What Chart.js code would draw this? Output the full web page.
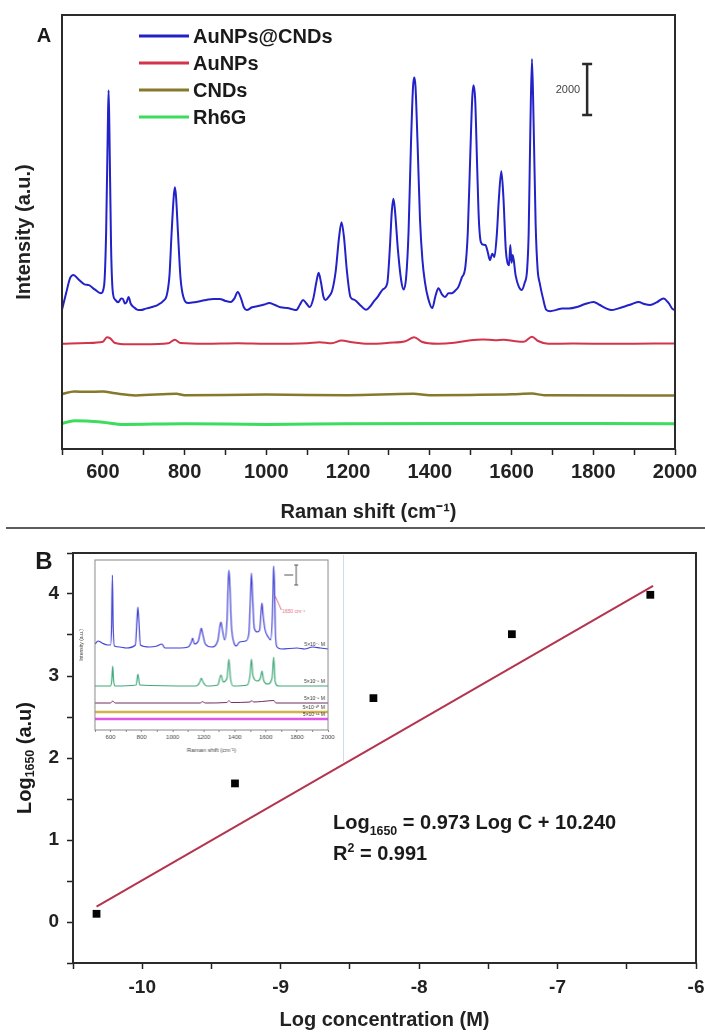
<!DOCTYPE html>
<html>
<head>
<meta charset="UTF-8">
<title>SERS spectra and 1650 calibration</title>
<script src="https://cdn.jsdelivr.net/npm/chart.js"></script>
<style>
  body { margin: 0; background: #fff; }
  #page { position: relative; width: 705px; height: 1032px; overflow: hidden; background: #fff; }
  canvas { position: absolute; }
  #spectra { left: 0; top: 0; }
  #calib { left: 0; top: 530px; }
  #inset { left: 74px; top: 555px; background: #fff; border-right: 1px solid #d3dde8; }
  .rule { position: absolute; left: 6px; right: 0; top: 527px; height: 2px; background: #5c5c5c; }
</style>
</head>
<body>
<div id="page">
  <canvas id="spectra" width="705" height="528"></canvas>
  <div class="rule"></div>
  <canvas id="calib" width="705" height="502"></canvas>
  <canvas id="inset" width="270" height="207"></canvas>
</div>

<script>
  const FAMILY = '"Liberation Sans", Arial, sans-serif';

  // ---- Panel A: spectra (Raman shift in cm-1, counts) ----
  const hybridShift = [
    500, 510, 520, 528, 540, 555, 566, 580, 595, 603,
    608, 612, 614, 616, 620, 624, 630, 638, 645, 649,
    654, 658, 663, 668, 676, 685, 693, 705, 720, 735,
    748, 756, 763, 768, 773, 776, 779, 784, 790, 797,
    809, 825, 840, 853, 870, 886, 900, 913, 922, 930,
    938, 945, 952, 965, 980, 995, 1007, 1020, 1035, 1051,
    1065, 1073, 1082, 1090, 1098, 1106, 1115, 1122, 1128, 1134,
    1140, 1145, 1152, 1161, 1170, 1178, 1184, 1190, 1197, 1206,
    1215, 1222, 1232, 1244, 1255, 1264, 1272, 1285, 1296, 1302,
    1307, 1311, 1315, 1322, 1330, 1336, 1342, 1348, 1354, 1359,
    1362, 1365, 1370, 1376, 1382, 1388, 1396, 1406, 1414, 1421,
    1430, 1437, 1446, 1454, 1462, 1470, 1478, 1487, 1493, 1499,
    1504, 1507, 1511, 1516, 1520, 1525, 1531, 1536, 1542, 1547,
    1553, 1558, 1564, 1569, 1575, 1580, 1586, 1590, 1594, 1597,
    1600, 1603, 1610, 1618, 1625, 1632, 1638, 1642, 1646, 1650,
    1654, 1659, 1664, 1669, 1677, 1685, 1695, 1710, 1724, 1740,
    1760, 1780, 1801, 1815, 1830, 1845, 1860, 1880, 1895, 1911,
    1925, 1939, 1955, 1972, 1985, 1993, 2000
  ];
  const hybridCounts = [
    5450, 6100, 6700, 6820, 6650, 6450, 6420, 6250, 6100, 6400,
    8500, 12500, 14050, 12500, 8000, 6200, 5850, 5750, 5900, 5880,
    5700, 5750, 5950, 5700, 5550, 5450, 5440, 5500, 5560, 5650,
    5800, 6000, 6800, 8400, 9800, 10250, 9900, 8400, 6700, 5950,
    5720, 5750, 5800, 5840, 5880, 5880, 5800, 5760, 5900, 6150,
    5900, 5550, 5440, 5550, 5600, 5660, 5720, 5650, 5550, 5520,
    5470, 5440, 5650, 5840, 5700, 5560, 5900, 6500, 6900, 6500,
    5950, 5840, 5950, 6200, 7000, 8300, 8880, 8300, 7000, 5950,
    5850, 5760, 5600, 5450, 5600, 5800, 5950, 6250, 6500, 7800,
    9300, 9800, 9300, 7800, 6600, 6250, 6700, 8500, 12000, 14200,
    14550, 14200, 12000, 9000, 7400, 6550, 5900, 5520, 6000, 6300,
    6050, 5950, 6100, 6100, 6200, 6350, 6700, 7130, 8500, 11500,
    13800, 14250, 13700, 11000, 9000, 8100, 8000, 7990, 7700, 7400,
    7650, 7520, 8400, 9800, 10880, 9900, 7800, 7300, 7200, 7990,
    7300, 7600, 6800, 6350, 6230, 6500, 7000, 8500, 12500, 15280,
    12800, 8800, 7000, 6500, 5900, 5450, 5400, 5450, 5500, 5500,
    5560, 5680, 5760, 5650, 5520, 5440, 5500, 5600, 5680, 5760,
    5680, 5640, 5740, 5900, 5700, 5500, 5440
  ];
  const aunpShift = [
    500, 560, 600, 610, 618, 630, 660, 700, 760, 776,
    790, 850, 930, 1000, 1100, 1130, 1160, 1184, 1210, 1250,
    1300, 1340, 1362, 1380, 1420, 1460, 1500, 1530, 1560, 1580,
    1610, 1630, 1650, 1665, 1690, 1750, 1850, 1950, 2000
  ];
  const aunpCounts = [
    4120, 4150, 4200, 4380, 4330, 4150, 4100, 4100, 4140, 4280,
    4150, 4120, 4140, 4120, 4140, 4180, 4140, 4250, 4180, 4120,
    4160, 4220, 4380, 4200, 4120, 4160, 4260, 4290, 4260, 4280,
    4220, 4200, 4400, 4230, 4120, 4130, 4120, 4130, 4130
  ];
  const cndShift = [500, 530, 560, 600, 630, 680, 780, 800, 1000, 1200, 1360, 1400, 1500, 1600, 1650, 1680, 2000];
  const cndCounts = [2150, 2250, 2240, 2250, 2180, 2100, 2160, 2110, 2130, 2110, 2160, 2110, 2120, 2140, 2170, 2110, 2100];
  const rh6gShift = [500, 530, 560, 600, 650, 800, 1000, 1200, 1500, 2000];
  const rh6gCounts = [1000, 1110, 1100, 1050, 960, 990, 960, 990, 1000, 990];

  const spectraLabels = ['AuNPs@CNDs', 'AuNPs', 'CNDs', 'Rh6G'];
  const scaleBar = { shift: 1785, from: 13080, size: 2000 };

  // ---- Panel B: calibration at 1650 cm-1 ----
  const logConc = [-10.33, -9.33, -8.33, -7.33, -6.33];
  const logI1650 = [0.10, 1.69, 2.73, 3.51, 3.99];
  const fitRange = [-10.33, -6.31];
  const fitSlope = 0.973;
  const fitIntercept = 10.240;
  const rSquared = 0.991;

  // ---- Inset: spectra at decreasing concentration ----
  const insetHighShift = [
    500, 520, 545, 580, 600, 607, 612, 617, 625, 660,
    700, 760, 770, 776, 782, 792, 850, 900, 930, 950,
    1050, 1100, 1120, 1128, 1140, 1165, 1178, 1184, 1192, 1210,
    1250, 1290, 1305, 1311, 1318, 1335, 1350, 1358, 1362, 1367,
    1378, 1395, 1410, 1430, 1470, 1490, 1500, 1507, 1514, 1525,
    1545, 1560, 1570, 1575, 1582, 1595, 1615, 1630, 1642, 1648,
    1650, 1655, 1662, 1672, 1700, 1800, 1850, 1900, 1950, 2000
  ];
  const insetHighCounts = [
    8600, 8900, 8700, 8500, 8500, 10500, 15500, 10500, 8400, 8300,
    8200, 8500, 11000, 12300, 11000, 8500, 8300, 8400, 8600, 8200,
    8200, 8300, 8800, 9200, 8600, 8900, 9800, 10200, 9700, 8600,
    8300, 8900, 10500, 10800, 10200, 9000, 11000, 15000, 16000, 15000,
    10500, 8700, 8400, 8800, 8900, 9600, 13000, 15700, 13500, 10200,
    9800, 10000, 12000, 12700, 11500, 10000, 9300, 9000, 11500, 15500,
    16400, 14500, 9500, 8300, 8100, 8200, 8100, 8300, 8200, 8100
  ];
  const insetMidShift = [
    500, 600, 608, 614, 620, 630, 765, 776, 788, 1150,
    1175, 1184, 1195, 1220, 1290, 1311, 1325, 1350, 1362, 1372,
    1390, 1480, 1498, 1507, 1517, 1545, 1565, 1575, 1585, 1610,
    1640, 1650, 1660, 1680, 2000
  ];
  const insetMidCounts = [
    4400, 4400, 5000, 6400, 4900, 4400, 4500, 5600, 4500, 4400,
    4800, 5200, 4800, 4400, 4500, 5500, 4800, 5200, 7100, 5200,
    4400, 4500, 5500, 7100, 5400, 4900, 5200, 5900, 5000, 4600,
    5200, 7300, 4800, 4400, 4400
  ];
  const insetLowShift = [500, 600, 614, 630, 1180, 1190, 1210, 1350, 1362, 1375, 1500, 1507, 1520, 1575, 1650, 1665, 2000];
  const insetLowCounts = [2700, 2700, 2900, 2700, 2700, 2850, 2700, 2750, 2950, 2750, 2800, 2950, 2800, 2850, 2950, 2700, 2700];
  const insetTraceShift = [500, 1000, 2000];
  const insetLower1 = [1800, 1800, 1800];
  const insetLower2 = [1100, 1100, 1100];
  const insetLabels = ['5×10⁻⁷ M', '5×10⁻⁸ M', '5×10⁻⁹ M', '5×10⁻¹⁰ M', '5×10⁻¹¹ M'];

  const toPoints = (xs, ys) => xs.map((x, i) => ({ x, y: ys[i] }));

  Chart.defaults.font.family = FAMILY;
  Chart.defaults.color = '#1e1e1e';

  // box around the plotting area
  const frame = {
    id: 'frame',
    afterDraw(chart, args, opts) {
      const { ctx, chartArea: a } = chart;
      ctx.save();
      ctx.strokeStyle = opts.color;
      ctx.lineWidth = opts.width;
      ctx.strokeRect(a.left, a.top, a.right - a.left, a.bottom - a.top);
      ctx.restore();
    }
  };

  // text with sub/superscript runs
  function richWidth(ctx, parts, size) {
    let w = 0;
    parts.forEach(p => {
      ctx.font = `bold ${p.sub || p.sup ? size * 0.62 : size}px ${FAMILY}`;
      w += ctx.measureText(p.t).width;
    });
    return w;
  }
  function drawRich(ctx, parts, x, y, size) {
    parts.forEach(p => {
      ctx.font = `bold ${p.sub || p.sup ? size * 0.62 : size}px ${FAMILY}`;
      const dy = p.sub ? size * 0.3 : p.sup ? -size * 0.4 : 0;
      ctx.fillText(p.t, x, y + dy);
      x += ctx.measureText(p.t).width;
    });
  }

  // keep the plot edges where the layout puts them, labels may overhang
  const noOverhang = s => { s.paddingLeft = 0; s.paddingRight = 0; };

  const baseOptions = {
    responsive: false,
    animation: false,
    devicePixelRatio: 1,
    elements: { point: { radius: 0 } },
    plugins: { legend: { display: false }, tooltip: { enabled: false } }
  };

  // ---------- Panel A ----------
  const spectraDecor = {
    id: 'spectraDecor',
    afterDraw(chart) {
      const { ctx, scales: { x, y } } = chart;
      ctx.save();
      ctx.fillStyle = '#1a1a1a';
      ctx.font = `bold 20px ${FAMILY}`;
      ctx.textAlign = 'center';
      ctx.textBaseline = 'middle';
      ctx.fillText('A', 44, 36);

      // legend
      ctx.textAlign = 'left';
      chart.data.datasets.forEach((ds, i) => {
        const ly = 36 + i * 27;
        ctx.strokeStyle = ds.borderColor;
        ctx.lineWidth = 3;
        ctx.beginPath();
        ctx.moveTo(139, ly);
        ctx.lineTo(189, ly);
        ctx.stroke();
        ctx.fillStyle = '#1a1a1a';
        ctx.font = `bold 20px ${FAMILY}`;
        ctx.fillText(ds.label, 193, ly + 1);
      });

      // intensity scale bar
      const bx = x.getPixelForValue(scaleBar.shift);
      const b0 = y.getPixelForValue(scaleBar.from);
      const b1 = y.getPixelForValue(scaleBar.from + scaleBar.size);
      ctx.strokeStyle = '#2a2a2a';
      ctx.lineWidth = 2.5;
      ctx.beginPath();
      ctx.moveTo(bx, b0); ctx.lineTo(bx, b1);
      ctx.moveTo(bx - 5, b0); ctx.lineTo(bx + 5, b0);
      ctx.moveTo(bx - 5, b1); ctx.lineTo(bx + 5, b1);
      ctx.stroke();
      ctx.fillStyle = '#444';
      ctx.font = `11px ${FAMILY}`;
      ctx.textAlign = 'right';
      ctx.fillText(String(scaleBar.size), bx - 7, (b0 + b1) / 2);
      ctx.restore();
    }
  };

  new Chart(document.getElementById('spectra'), {
    type: 'line',
    data: {
      datasets: [
        { label: spectraLabels[0], data: toPoints(hybridShift, hybridCounts), borderColor: '#2222c8', borderWidth: 2 },
        { label: spectraLabels[1], data: toPoints(aunpShift, aunpCounts), borderColor: '#d2344c', borderWidth: 2 },
        { label: spectraLabels[2], data: toPoints(cndShift, cndCounts), borderColor: '#86792c', borderWidth: 2.5 },
        { label: spectraLabels[3], data: toPoints(rh6gShift, rh6gCounts), borderColor: '#3cdc5c', borderWidth: 3 }
      ]
    },
    options: {
      ...baseOptions,
      elements: { point: { radius: 0 }, line: { cubicInterpolationMode: 'monotone' } },
      layout: { padding: { top: 15, right: 30, left: 0, bottom: 0 } },
      scales: {
        x: {
          type: 'linear', min: 500, max: 2000,
          ticks: {
            stepSize: 100, autoSkip: false, maxRotation: 0, padding: 5,
            font: { size: 20, weight: 'bold' }, color: '#222',
            callback: v => (v % 200 === 0 ? v : '')
          },
          grid: { drawOnChartArea: false, tickLength: 6, tickColor: '#222', tickWidth: 1.5 },
          border: { display: false },
          title: { display: true, text: 'Raman shift (cm⁻¹)', font: { size: 20, weight: 'bold' }, color: '#222', padding: { top: 0, bottom: 4 } },
          afterFit(s) { s.height = 79; noOverhang(s); }
        },
        y: {
          type: 'linear', min: 0, max: 17000,
          ticks: { display: false },
          grid: { display: false },
          border: { display: false },
          title: { display: true, text: 'Intensity (a.u.)', font: { size: 20, weight: 'bold' }, color: '#222', padding: { top: 12, bottom: 0 } },
          afterFit(s) { s.width = 62; }
        }
      },
      plugins: { ...baseOptions.plugins, frame: { color: '#2b2b2b', width: 2 } }
    },
    plugins: [frame, spectraDecor]
  });

  // ---------- Panel B ----------
  const calibDecor = {
    id: 'calibDecor',
    afterDraw(chart) {
      const { ctx, chartArea: a } = chart;
      ctx.save();
      ctx.fillStyle = '#1a1a1a';
      ctx.font = `bold 24px ${FAMILY}`;
      ctx.textAlign = 'center';
      ctx.textBaseline = 'middle';
      ctx.fillText('B', 44, 32);

      // rotated y title
      const title = [{ t: 'Log' }, { t: '1650', sub: true }, { t: ' (a.u)' }];
      const tw = richWidth(ctx, title, 20);
      ctx.save();
      ctx.translate(25, (a.top + a.bottom) / 2);
      ctx.rotate(-Math.PI / 2);
      ctx.textAlign = 'left';
      ctx.textBaseline = 'middle';
      drawRich(ctx, title, -tw / 2, 0, 20);
      ctx.restore();

      // fit equation
      ctx.textAlign = 'left';
      ctx.textBaseline = 'alphabetic';
      drawRich(ctx, [
        { t: 'Log' }, { t: '1650', sub: true },
        { t: ` = ${fitSlope.toFixed(3)} Log C + ${fitIntercept.toFixed(3)}` }
      ], 333, 299, 20);
      drawRich(ctx, [{ t: 'R' }, { t: '2', sup: true }, { t: ` = ${rSquared.toFixed(3)}` }], 333, 330, 20);
      ctx.restore();
    }
  };

  new Chart(document.getElementById('calib'), {
    type: 'scatter',
    data: {
      datasets: [
        {
          data: toPoints(logConc, logI1650),
          pointStyle: 'rect', pointRadius: 5.5, pointBorderWidth: 0,
          backgroundColor: '#050505', borderColor: '#050505'
        },
        {
          data: toPoints(fitRange, fitRange.map(c => fitSlope * c + fitIntercept)),
          showLine: true, borderColor: '#b4334e', borderWidth: 2, pointRadius: 0
        }
      ]
    },
    options: {
      ...baseOptions,
      layout: { padding: { top: 23, right: 9, left: 0, bottom: 0 } },
      scales: {
        x: {
          type: 'linear', min: -10.5, max: -6,
          ticks: {
            stepSize: 0.5, autoSkip: false, maxRotation: 0, padding: 7,
            font: { size: 19, weight: 'bold' }, color: '#222',
            callback: v => (Number.isInteger(v) ? v : '')
          },
          grid: { drawOnChartArea: false, tickLength: 6, tickColor: '#222', tickWidth: 1.5 },
          border: { display: false },
          title: { display: true, text: 'Log concentration (M)', font: { size: 20, weight: 'bold' }, color: '#222', padding: { top: 0, bottom: 0 } },
          afterFit(s) { s.height = 69; noOverhang(s); }
        },
        y: {
          type: 'linear', min: -0.5, max: 4.5,
          ticks: {
            stepSize: 0.5, autoSkip: false, padding: 8,
            font: { size: 19, weight: 'bold' }, color: '#222',
            callback: v => (Number.isInteger(v) ? v : '')
          },
          grid: { drawOnChartArea: false, tickLength: 6, tickColor: '#222', tickWidth: 1.5 },
          border: { display: false },
          afterFit(s) { s.width = 73; }
        }
      },
      plugins: { ...baseOptions.plugins, frame: { color: '#2b2b2b', width: 2 } }
    },
    plugins: [frame, calibDecor]
  });

  // ---------- Inset ----------
  const insetDecor = {
    id: 'insetDecor',
    afterDraw(chart) {
      const { ctx, chartArea: a, scales: { x, y } } = chart;
      ctx.save();
      ctx.font = `5px ${FAMILY}`;
      ctx.fillStyle = '#333';
      ctx.textAlign = 'right';
      ctx.textBaseline = 'bottom';
      chart.data.datasets.forEach((ds, i) => {
        const last = ds.data[ds.data.length - 1];
        ctx.fillText(insetLabels[i], a.right - 3, y.getPixelForValue(last.y) - 1.5);
      });

      // scale bar
      const bx = x.getPixelForValue(1795);
      const b0 = y.getPixelForValue(14500), b1 = y.getPixelForValue(16500);
      ctx.strokeStyle = '#555';
      ctx.lineWidth = 1;
      ctx.beginPath();
      ctx.moveTo(bx, b0); ctx.lineTo(bx, b1);
      ctx.moveTo(bx - 2, b0); ctx.lineTo(bx + 2, b0);
      ctx.moveTo(bx - 2, b1); ctx.lineTo(bx + 2, b1);
      ctx.moveTo(bx - 12, (b0 + b1) / 2); ctx.lineTo(bx - 3, (b0 + b1) / 2);
      ctx.stroke();

      // 1650 band marker
      ctx.strokeStyle = '#e07080';
      ctx.fillStyle = '#e07080';
      ctx.beginPath();
      ctx.moveTo(x.getPixelForValue(1660), y.getPixelForValue(13400));
      ctx.lineTo(x.getPixelForValue(1700), y.getPixelForValue(12000));
      ctx.stroke();
      ctx.textAlign = 'left';
      ctx.textBaseline = 'middle';
      ctx.fillText('1650 cm⁻¹', x.getPixelForValue(1705), y.getPixelForValue(11800));
      ctx.restore();
    }
  };

  new Chart(document.getElementById('inset'), {
    type: 'line',
    data: {
      datasets: [
        { data: toPoints(insetHighShift, insetHighCounts), borderColor: '#4040d4', borderWidth: 1.2 },
        { data: toPoints(insetMidShift, insetMidCounts), borderColor: '#3fa878', borderWidth: 1.2 },
        { data: toPoints(insetLowShift, insetLowCounts), borderColor: '#6e2c5e', borderWidth: 1 },
        { data: toPoints(insetTraceShift, insetLower1), borderColor: '#d4b24a', borderWidth: 2.5 },
        { data: toPoints(insetTraceShift, insetLower2), borderColor: '#e055e8', borderWidth: 2.5 }
      ]
    },
    options: {
      ...baseOptions,
      elements: { point: { radius: 0 }, line: { cubicInterpolationMode: 'monotone' } },
      layout: { padding: { top: 5, right: 15, left: 0, bottom: 0 } },
      scales: {
        x: {
          type: 'linear', min: 500, max: 2000,
          ticks: {
            stepSize: 100, autoSkip: false, maxRotation: 0, padding: 2,
            font: { size: 6 }, color: '#444',
            callback: v => (v % 200 === 0 ? v : '')
          },
          grid: { drawOnChartArea: false, tickLength: 2, tickColor: '#666', tickWidth: 0.8 },
          border: { display: false },
          title: { display: true, text: 'Raman shift (cm⁻¹)', font: { size: 6 }, color: '#444', padding: { top: 0, bottom: 8 } },
          afterFit(s) { s.height = 32; noOverhang(s); }
        },
        y: {
          type: 'linear', min: 0, max: 17000,
          ticks: { display: false },
          grid: { display: false },
          border: { display: false },
          title: { display: true, text: 'Intensity (a.u.)', font: { size: 5 }, color: '#444', padding: { top: 5, bottom: 0 } },
          afterFit(s) { s.width = 21; }
        }
      },
      plugins: { ...baseOptions.plugins, frame: { color: '#888', width: 1 } }
    },
    plugins: [frame, insetDecor]
  });
</script>
</body>
</html>
